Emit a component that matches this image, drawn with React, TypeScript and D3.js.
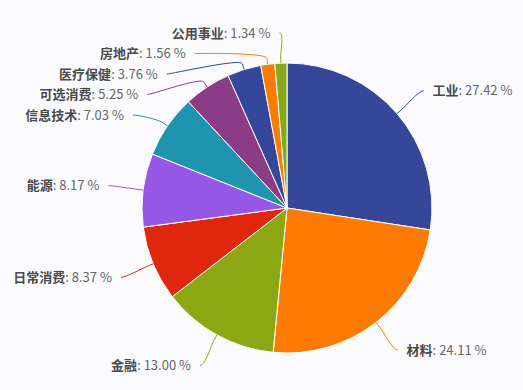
import React from 'react'
import * as d3 from 'd3'

// sector shares (%)
const names = ['工业', '材料', '金融', '日常消费', '能源', '信息技术', '可选消费', '医疗保健', '房地产', '公用事业']
const shares = [27.42, 24.11, 13.0, 8.37, 8.17, 7.03, 5.25, 3.76, 1.56, 1.34]
const colors = ['#36479a', '#fd7b03', '#8ba813', '#e0260c', '#9657e6', '#1f94b1', '#8c3b87', '#34479a', '#fb7c05', '#86a91a']

// layout
const width = 523
const height = 390
const cx = 287
const cy = 208
const radius = 145
const labelDistance = 35
const breakOffset = 6
const labelGap = 9
const topLimit = 33
const bottomLimit = 380
const slot = 20.5

type Label = {
  i: number
  mid: number
  left: boolean
  nx: number
  ny: number
  x: number
  y: number
}

export default function App() {
  const pie = d3.pie<number>().sort(null).value(d => d)
  const arcs = pie(shares)
  const arc = d3.arc<d3.PieArcDatum<number>>().innerRadius(0).outerRadius(radius)
  const labelR = radius + labelDistance

  // natural label positions
  const labels: Label[] = arcs.map((a, i) => {
    const mid = (a.startAngle + a.endAngle) / 2
    const nx = cx + labelR * Math.sin(mid)
    const ny = cy - labelR * Math.cos(mid)
    return { i, mid, left: mid > Math.PI, nx, ny, x: nx, y: ny }
  })

  // push overlapping labels down on each side, x follows the label circle
  ;[true, false].forEach(side => {
    const group = labels.filter(l => l.left === side).sort((a, b) => a.ny - b.ny)
    let prev = -Infinity
    group.forEach(l => {
      l.y = Math.min(bottomLimit, Math.max(l.ny, prev + slot, topLimit))
      prev = l.y
    })
    group.forEach(l => {
      const clamped = l.y === topLimit || l.y === bottomLimit
      if (!clamped && Math.abs(l.y - l.ny) > 0.5) {
        const dy = l.y - cy
        const dx = Math.sqrt(Math.max(0, labelR * labelR - dy * dy))
        l.x = cx + (side ? -1 : 1) * dx
      }
    })
  })

  const connector = (l: Label) => {
    const bx = cx + (radius + breakOffset) * Math.sin(l.mid)
    const by = cy - (radius + breakOffset) * Math.cos(l.mid)
    const tx = cx + radius * Math.sin(l.mid)
    const ty = cy - radius * Math.cos(l.mid)
    const c1x = l.x + (l.left ? 5 : -5)
    const path = d3.path()
    path.moveTo(l.x, l.y)
    path.bezierCurveTo(c1x, l.y, 2 * bx - tx, 2 * by - ty, bx, by)
    path.lineTo(tx, ty)
    return path.toString()
  }

  return (
    <svg
      width={width}
      height={height}
      style={{ position: 'absolute', left: 0, top: 0, background: '#fbfbfd' }}
      fontFamily='"Noto Sans CJK SC", "Noto Sans", sans-serif'
    >
      <g>
        {arcs.map((a, i) => (
          <path
            key={names[i]}
            d={arc(a) || ''}
            transform={`translate(${cx},${cy})`}
            fill={colors[i]}
            stroke="#ffffff"
            strokeWidth={1}
            strokeLinejoin="round"
          />
        ))}
      </g>
      <g>
        {labels.map(l => (
          <path key={'c' + l.i} d={connector(l)} fill="none" stroke={colors[l.i]} strokeWidth={1} />
        ))}
      </g>
      <g fontSize={13}>
        {labels.map(l => (
          <text
            key={'t' + l.i}
            x={l.left ? l.x - labelGap : l.x + labelGap}
            y={l.y}
            dy="0.35em"
            textAnchor={l.left ? 'end' : 'start'}
          >
            <tspan fontWeight="bold" fill="#4a4a4a">{names[l.i]}</tspan>
            <tspan fill="#666666">: {d3.format('.2f')(shares[l.i])} %</tspan>
          </text>
        ))}
      </g>
    </svg>
  )
}
